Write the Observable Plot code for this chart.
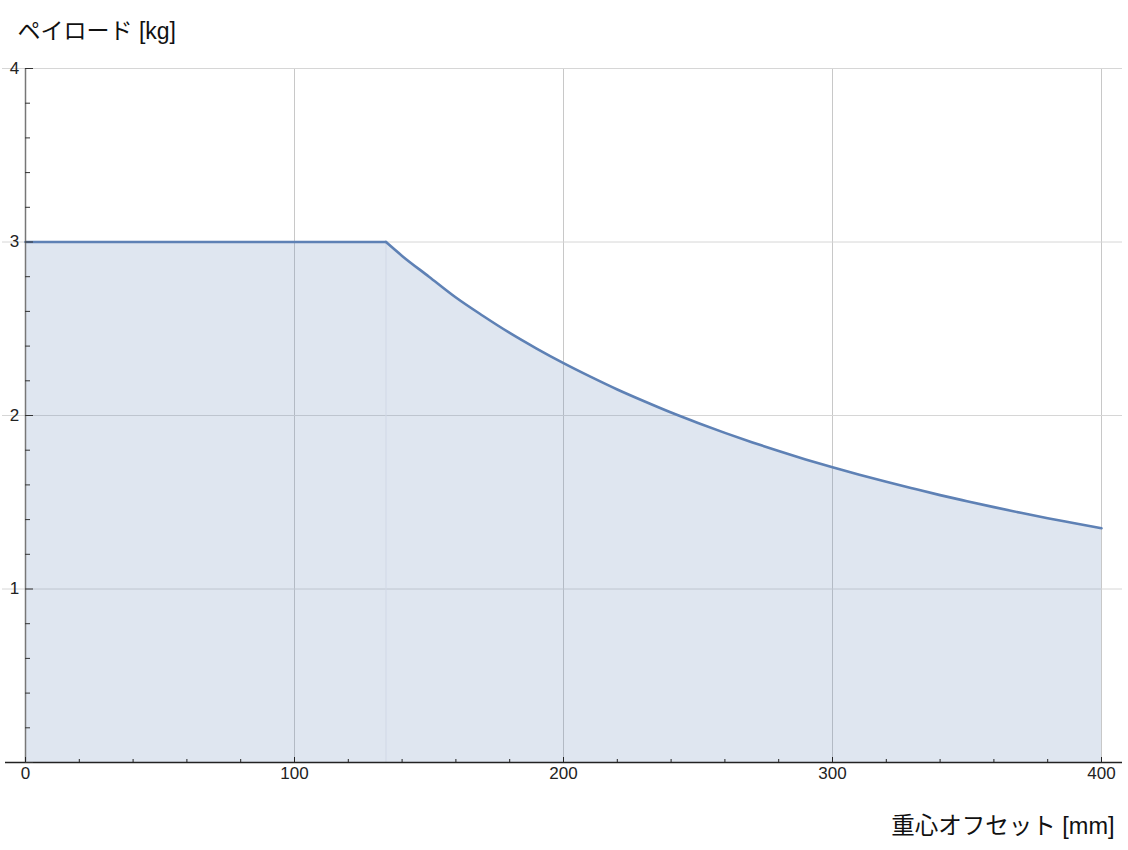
<!DOCTYPE html>
<html><head><meta charset="utf-8">
<script src="https://cdn.jsdelivr.net/npm/d3@7"></script>
<script src="https://cdn.jsdelivr.net/npm/@observablehq/plot@0.6"></script>
<style>
body{margin:0;background:#fff;}
svg{display:block;}
</style></head>
<body><div id="chart"></div>
<script>
const offsetMM = [0, 134, 140, 150, 160, 170, 180, 190, 200, 210, 220, 230, 240, 250, 260, 270, 280, 290, 300, 310, 320, 330, 340, 350, 360, 370, 380, 390, 400];
const payloadKG = [3, 3, 2.92, 2.80, 2.68, 2.575, 2.476, 2.386, 2.302, 2.224, 2.150, 2.082, 2.017, 1.957, 1.900, 1.846, 1.795, 1.747, 1.702, 1.659, 1.618, 1.579, 1.541, 1.506, 1.472, 1.439, 1.408, 1.379, 1.35];
const xMajorTicks = [0, 100, 200, 300, 400];
const xMinorTicks = [20,40,60,80,120,140,160,180,220,240,260,280,320,340,360,380];
const yMajorTicks = [0, 1, 2, 3, 4];
const yMinorTicks = [0.2,0.4,0.6,0.8,1.2,1.4,1.6,1.8,2.2,2.4,2.6,2.8,3.2,3.4,3.6,3.8];
const breakX = [134];
const yTitle = "ペイロード [kg]";
const xTitle = "重心オフセット [mm]";

const data = offsetMM.map((x, i) => ({x, y: payloadKG[i]}));
const flat = data.filter(d => d.x <= breakX[0]);
const decay = data.filter(d => d.x >= breakX[0]);
const W = 1128, H = 850, mt = 68, mb = 88, ml = 25, mr = 27;
const ph = H - mt - mb;
const font = "'Liberation Sans', Arial, 'Noto Sans CJK JP', sans-serif";
const blue = "#5e81b5";

const chart = Plot.plot({
  width: W, height: H,
  marginTop: mt, marginBottom: mb, marginLeft: ml, marginRight: mr,
  x: {domain: [0, 400], axis: null},
  y: {domain: [0, 4], axis: null},
  style: {fontFamily: font, background: "#fff"},
  marks: [
    Plot.ruleX(xMajorTicks.filter(d => d > 0), {x: d => d, stroke: "#c8c8c8", strokeWidth: 1}),
    Plot.ruleY(yMajorTicks.filter(d => d > 0), {y: d => d, stroke: "#d6d6d6", strokeWidth: 1, insetLeft: -23, insetRight: -21}),
    Plot.areaY(flat, {x: "x", y: "y", fill: blue, fillOpacity: 0.2}),
    Plot.areaY(decay, {x: "x", y: "y", fill: blue, fillOpacity: 0.2, curve: "monotone-x"}),
    Plot.ruleX(breakX, {x: d => d, y1: 0, y2: payloadKG[1], stroke: "#d2d8e6", strokeWidth: 1}),
    Plot.line(flat, {x: "x", y: "y", stroke: blue, strokeWidth: 2.6}),
    Plot.line(decay, {x: "x", y: "y", stroke: blue, strokeWidth: 2.6, curve: "monotone-x"}),
    // axes lines
    Plot.ruleY([0], {y: d => d, stroke: "#222", strokeWidth: 1.3, insetLeft: -20, insetRight: -21}),
    Plot.ruleX([0], {x: d => d, stroke: "#777", strokeWidth: 1.5}),
    // x ticks (inward)
    Plot.tickX(xMajorTicks, {x: d => d, stroke: "#222", strokeWidth: 1, insetTop: ph - 5}),
    Plot.tickX(xMinorTicks, {x: d => d, stroke: "#222", strokeWidth: 1, insetTop: ph - 3}),
    // y ticks (inward)
    Plot.tickY(yMajorTicks, {y: d => d, stroke: "#333", strokeWidth: 1, insetRight: (W - ml - mr) - 8}),
    Plot.tickY(yMinorTicks, {y: d => d, stroke: "#333", strokeWidth: 1, insetRight: (W - ml - mr) - 5}),
    // tick labels
    Plot.text(xMajorTicks, {x: d => d, text: d => String(d), frameAnchor: "bottom", dy: 16, fontSize: 17, fill: "#222"}),
    Plot.text(yMajorTicks.filter(d => d > 0), {y: d => d, text: d => String(d), frameAnchor: "left", dx: -11, textAnchor: "middle", fontSize: 17, fill: "#222"}),
    // titles
    Plot.text([yTitle], {text: d => d, frameAnchor: "top-left", dx: -8, dy: -46, textAnchor: "start", fontSize: 23, fill: "#111"}),
    Plot.text([xTitle], {text: d => d, frameAnchor: "bottom-right", dx: 13, dy: 71, textAnchor: "end", fontSize: 23.5, fill: "#111"})
  ]
});
document.getElementById("chart").appendChild(chart);
</script>
</body></html>
